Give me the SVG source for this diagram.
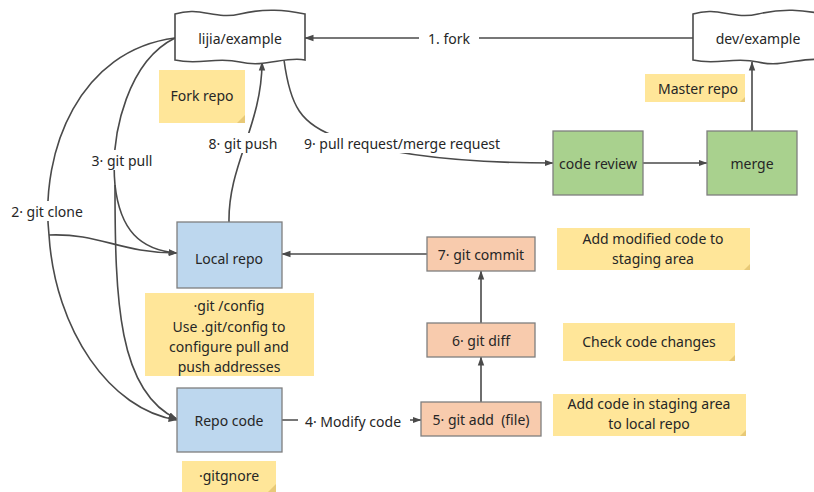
<svg xmlns="http://www.w3.org/2000/svg" width="814" height="492" viewBox="0 0 814 492">
<defs>
<marker id="arr" markerWidth="9" markerHeight="8" refX="8.5" refY="4" orient="auto" markerUnits="userSpaceOnUse">
<path d="M0,0.8 L9,4 L0,7.2 Z" fill="#4a4a4a"/>
</marker>
<style>
text{font-family:"Noto Sans","Open Sans","DejaVu Sans",sans-serif;font-size:14px;fill:#262626;text-anchor:middle;dominant-baseline:central}
.con{fill:none;stroke:#4a4a4a;stroke-width:1.6}
.lb{fill:#ffffff}
.tape{fill:#ffffff;stroke:#4a4a4a;stroke-width:1.6}
.blue{fill:#bdd7ee;stroke:#7f7f7f;stroke-width:1.3}
.green{fill:#a9d18e;stroke:#7f7f7f;stroke-width:1.3}
.sal{fill:#f8cbad;stroke:#7f7f7f;stroke-width:1.3}
.note{fill:#ffe699}
.fold{fill:#e8c977}
</style>
</defs>
<rect width="814" height="492" fill="#ffffff"/>

<g id="connectors">
<path class="con" d="M693,38 L305,38" marker-end="url(#arr)"/>
<path class="con" d="M175,38 C80,50 40,150 49,235 C55,330 110,410 177,420" marker-end="url(#arr)"/>
<path class="con" d="M49,235 C100,233 120,253 177,253" marker-end="url(#arr)"/>
<path class="con" d="M175,38 C130,60 110,130 115,185 C115,300 118,392 177,419" marker-end="url(#arr)"/>
<path class="con" d="M115,185 C120,230 140,250 177,253" marker-end="url(#arr)"/>
<path class="con" d="M229,222 C228,165 262,125 262,62" marker-end="url(#arr)"/>
<path class="con" d="M284,60 C290,105 300,125 340,138 C400,158 480,163 553,163" marker-end="url(#arr)"/>
<path class="con" d="M643,163 L707,163" marker-end="url(#arr)"/>
<path class="con" d="M752,131 L752,62" marker-end="url(#arr)"/>
<path class="con" d="M427,254 L282,254" marker-end="url(#arr)"/>
<path class="con" d="M481,323 L481,271" marker-end="url(#arr)"/>
<path class="con" d="M481,402 L481,357" marker-end="url(#arr)"/>
<path class="con" d="M282,420 L421,420" marker-end="url(#arr)"/>
<rect class="lb" x="419" y="28" width="60" height="20"/>
<text x="449" y="38">1. fork</text>
<rect class="lb" x="12" y="201" width="72" height="20"/>
<text x="47" y="211">2· git clone</text>
<rect class="lb" x="91" y="150" width="62" height="20"/>
<text x="122" y="160">3· git pull</text>
<rect class="lb" x="210" y="133" width="66" height="20"/>
<text x="243" y="143">8· git push</text>
<rect class="lb" x="302" y="133" width="200" height="20"/>
<text x="402" y="143">9· pull request/merge request</text>
<rect class="lb" x="298" y="410" width="112" height="22"/>
<text x="353" y="421">4· Modify code</text>
</g>

<g id="lijia">
<path class="tape" d="M175,14 C200,6 215,20 240,14 C265,8 285,10 305,14 L305,60 C285,56 265,68 240,62 C215,56 200,66 175,60 Z"/>
<text x="240" y="38">lijia/example</text>
</g>
<g id="dev">
<path class="tape" d="M693,14 C718,6 733,20 758,14 C783,8 803,10 823,14 L823,60 C803,56 783,68 758,62 C733,56 718,66 693,60 Z"/>
<text x="758" y="38">dev/example</text>
</g>

<g id="forkrepo">
<rect class="note" x="159" y="70" width="86" height="53"/>
<path class="fold" d="M245,115 L245,123 L237,123 Z"/>
<text x="202" y="95">Fork repo</text>
</g>
<g id="masterrepo">
<rect class="note" x="645" y="74" width="100" height="28"/>
<path class="fold" d="M745,97 L745,102 L740,102 Z"/>
<text x="698" y="88">Master repo</text>
</g>

<g id="codereview">
<rect class="green" x="553" y="131" width="90" height="64"/>
<text x="598" y="163">code review</text>
</g>
<g id="merge">
<rect class="green" x="707" y="131" width="90" height="64"/>
<text x="752" y="163">merge</text>
</g>

<g id="localrepo">
<rect class="blue" x="177" y="222" width="105" height="66"/>
<text x="229" y="258">Local repo</text>
</g>
<g id="config">
<rect class="note" x="145" y="293" width="169" height="83"/>
<text x="229" y="305">·git /config</text>
<text x="229" y="326">Use .git/config to</text>
<text x="229" y="346">configure pull and</text>
<text x="229" y="366">push addresses</text>
</g>
<g id="repocode">
<rect class="blue" x="177" y="388" width="105" height="64"/>
<text x="229" y="420">Repo code</text>
</g>
<g id="gitgnore">
<rect class="note" x="182" y="461" width="94" height="31"/>
<path class="fold" d="M276,484 L276,492 L268,492 Z"/>
<text x="229" y="475">·gitgnore</text>
</g>

<g id="commit">
<rect class="sal" x="427" y="237" width="108" height="34"/>
<text x="481" y="254">7· git commit</text>
</g>
<g id="diff">
<rect class="sal" x="427" y="323" width="108" height="34"/>
<text x="481" y="340">6· git diff</text>
</g>
<g id="add">
<rect class="sal" x="421" y="402" width="120" height="34"/>
<text x="481" y="419" xml:space="preserve">5· git add  (file)</text>
</g>

<g id="note7">
<rect class="note" x="557" y="228" width="193" height="42"/>
<path class="fold" d="M750,264 L750,270 L744,270 Z"/>
<text x="653" y="238">Add modified code to</text>
<text x="653" y="258">staging area</text>
</g>
<g id="note6">
<rect class="note" x="563" y="323" width="172" height="38"/>
<path class="fold" d="M735,355 L735,361 L729,361 Z"/>
<text x="649" y="341">Check code changes</text>
</g>
<g id="note5">
<rect class="note" x="553" y="394" width="193" height="42"/>
<path class="fold" d="M746,430 L746,436 L740,436 Z"/>
<text x="649" y="403">Add code in staging area</text>
<text x="649" y="423">to local repo</text>
</g>
</svg>
